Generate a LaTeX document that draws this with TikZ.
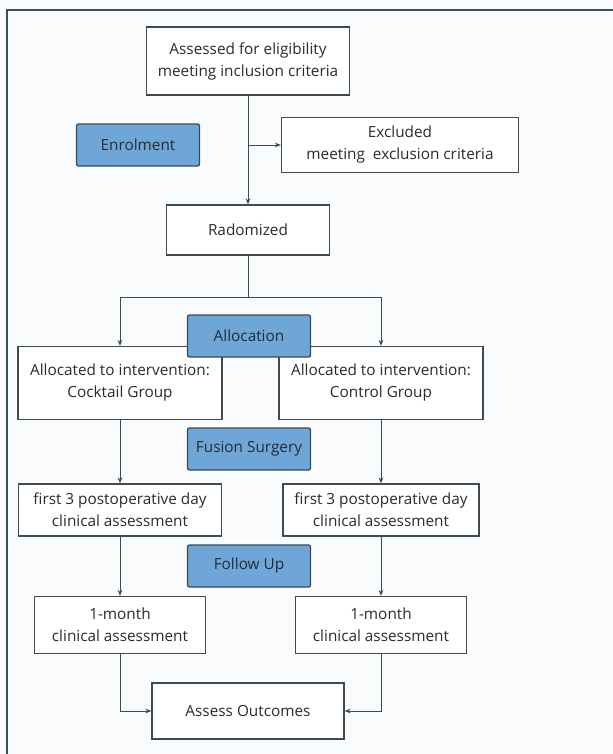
\documentclass[tikz,border=0pt]{standalone}
\usepackage{fontspec}
\setmainfont{Open Sans}
\usetikzlibrary{arrows.meta}
\usetikzlibrary{positioning}
\definecolor{phaseblue}{RGB}{111,166,216}
\definecolor{boxline}{RGB}{62,74,82}
\definecolor{frameline}{RGB}{52,82,92}
\definecolor{paper}{RGB}{250,251,253}
\definecolor{ink}{RGB}{38,44,50}

\begin{document}
\begin{tikzpicture}[x=0.75pt,y=-0.75pt,
	box/.style={draw=boxline, line width=1pt, fill=white, align=center,
	            font=\fontsize{11.5}{16.5}\selectfont, text=ink, inner sep=2pt},
	phase/.style={box, fill=phaseblue, rounded corners=1.5pt,
	              minimum width=92.25pt, minimum height=31.5pt}]
	\useasboundingbox (0,0) rectangle (613,754);
	\fill[paper] (0,0) rectangle (613,754);
	\draw[frameline, line width=1.4pt] (7,780) -- (7,10) -- (640,10);

	\begin{scope}[every node/.style={box}]
		\node[minimum width=152.25pt, minimum height=51pt] (assess) at (248,61) {Assessed for eligibility\\meeting inclusion criteria};
		\node[minimum width=177.75pt, minimum height=41.25pt] (excl) at (400,145) {Excluded\\meeting\ \ exclusion criteria};
		\node[minimum width=122.25pt, minimum height=37.5pt] (radom) at (248,230) {Radomized};
		\node[minimum width=153pt, minimum height=54.75pt] (allocL) at (120,383) {Allocated to intervention:\\Cocktail Group};
		\node[minimum width=153pt, minimum height=54.75pt] (allocR) at (381,383) {Allocated to intervention:\\Control Group};
		\node[minimum width=152.25pt, minimum height=39pt] (postL) at (120,510) {first 3 postoperative day\\clinical assessment};
		\node[minimum width=147pt, minimum height=39pt] (postR) at (381,510) {first 3 postoperative day\\clinical assessment};
		\node[minimum width=128.25pt, minimum height=42.75pt] (monthL) at (120,625) {1-month\\clinical assessment};
		\node[minimum width=128.25pt, minimum height=42.75pt] (monthR) at (381,625) {1-month\\clinical assessment};
		\node[minimum width=144pt, minimum height=42pt] (outcome) at (248,711) {Assess Outcomes};
	\end{scope}

	\node[phase] (enrol) at (138,145) {Enrolment};
	\node[phase] (alloc) at (249,336) {Allocation};
	\node[phase] (fusion) at (249,449) {Fusion Surgery};
	\node[phase] (follow) at (249,566) {Follow Up};

	\coordinate (excljoin) at (248,145);
	\coordinate (split) at (248,297);

	\begin{scope}[>={Stealth[length=4.5pt,width=3.5pt]},
	              every edge/.style={draw=boxline, line width=0.7pt}]
		\path (assess) edge[->] (radom);
		\path (excljoin) edge[->] (excl);
		\path (radom) edge (split);
		\draw[boxline, line width=0.7pt, ->] (split) -| (allocL);
		\draw[boxline, line width=0.7pt, ->] (split) -| (allocR);
		\path (allocL) edge[->] (postL);
		\path (allocR) edge[->] (postR);
		\path (postL) edge[->] (monthL);
		\path (postR) edge[->] (monthR);
		\draw[boxline, line width=0.7pt, ->] (monthL) |- (outcome);
		\draw[boxline, line width=0.7pt, ->] (monthR) |- (outcome);
	\end{scope}
\end{tikzpicture}
\end{document}
